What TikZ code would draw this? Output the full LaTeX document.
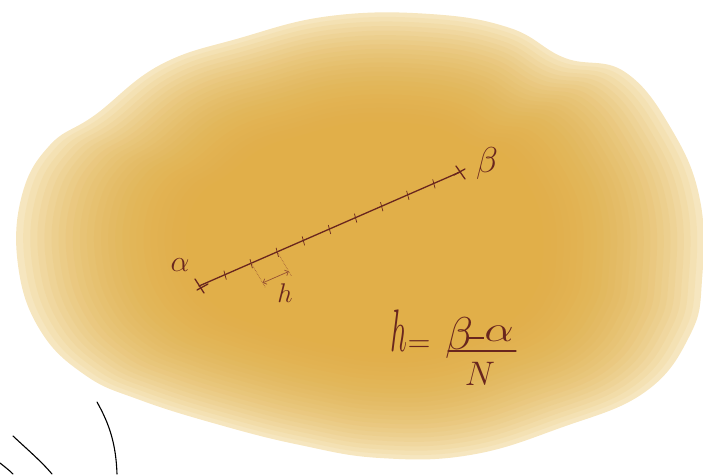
\RequirePackage{fix-cm}
\documentclass[tikz,border=0pt]{standalone}
\usetikzlibrary{arrows.meta,calc}
\definecolor{ink}{RGB}{105,38,30}
\definecolor{inklight}{RGB}{150,80,50}
\definecolor{wash}{RGB}{224,172,62}
\definecolor{washlight}{RGB}{246,228,182}
\tikzset{
  mainline/.style={ink, line width=1.3pt, line cap=round},
  tickmark/.style={ink, line width=0.7pt},
  guide/.style={inklight, line width=0.6pt, densely dotted},
  harrow/.style={inklight, line width=0.7pt, {Straight Barb[length=3pt]}-{Straight Barb[length=3pt]}},
  lbl/.style={ink, inner sep=0pt},
  stroke/.style={black, line width=1.1pt, line cap=round}
}
\newcommand{\blobpath}{plot[smooth cycle, tension=0.7] coordinates {
 (95,115) (160,65) (240,38) (330,16) (430,14) (510,28) (565,58) (625,72)
 (672,130) (700,200) (702,280) (690,335) (645,392) (560,428) (470,455)
 (380,458) (300,445) (220,425) (140,400) (85,375) (40,330) (18,265) (22,195) (50,145)}}
\begin{document}
\begin{tikzpicture}[x=1pt,y=-1pt]
\useasboundingbox (0,0) rectangle (703,474);
% watercolor wash
\fill[washlight, opacity=0.7] \blobpath;
\foreach \s in {1.0,0.98,...,0.5}{
  \begin{scope}[shift={(370,240)}, scale=\s, shift={(-370,-240)}]
    \fill[wash, opacity=0.085] \blobpath;
  \end{scope}
}
% main segment
\coordinate (A) at (199,286);
\coordinate (B) at (460,172);
\draw[mainline] (A) -- (B);
% end crosses
\draw[mainline] ($(A)+(-4,-7)$) -- ($(A)+(5,7)$);
\draw[mainline] ($(A)+(-2,4)$) -- ($(A)+(9,-2)$);
\draw[mainline] ($(B)+(-4,-6)$) -- ($(B)+(5,7)$);
\draw[mainline] ($(B)+(-6,3)$) -- ($(B)+(5,-3)$);
% ticks
\foreach \k in {1,...,9}{
  \coordinate (T\k) at ($(A)!\k/10!(B)$);
  \draw[tickmark] ($(T\k)+(-1.2,-4)$) -- ($(T\k)+(1.2,5)$);
}
% guides
\coordinate (G2) at ($(T2)+(14,24)$);
\coordinate (G3) at ($(T3)+(14,24)$);
\draw[guide] (T2) -- (G2);
\draw[guide] (T3) -- (G3);
\coordinate (H1) at ($(T2)!0.82!(G2)$);
\coordinate (H2) at ($(T3)!0.82!(G3)$);
\draw[harrow] (H1) -- (H2);
% labels
\node[lbl, font=\fontsize{30}{32}\selectfont] (alab) at (180,265) {$\alpha$};
\node[lbl, font=\fontsize{36}{38}\selectfont] (blab) at (487,163) {$\beta$};
\node[lbl, font=\fontsize{27}{29}\selectfont] (hlab) at (285,293) {$h$};
% formula
\node[lbl, font=\fontsize{60}{62}\selectfont] (hh) at (399,331) {\scalebox{0.5}[1]{$h$}};
\node[lbl] (eq) at (419,346) {\resizebox{23pt}{!}{$=$}};
\node[lbl, font=\fontsize{46}{48}\selectfont] (fb) at (459,338) {$\beta$};
\node[lbl, font=\fontsize{36}{38}\selectfont] (fa) at (499,334) {\scalebox{1.3}[1]{$\alpha$}};
\coordinate (m1) at (469,338);
\coordinate (m2) at (484,338);
\draw[ink, line width=1.2pt] (m1) -- (m2);
\coordinate (bar1) at (448,351);
\coordinate (bar2) at (516,351);
\draw[ink, line width=1.3pt, line cap=round] (bar1) -- (bar2);
\node[lbl, font=\fontsize{34}{36}\selectfont] (fn) at (480,374) {$N$};
% black strokes bottom-left
\draw[stroke] (97,402) .. controls (110,425) and (116,445) .. (117,474);
\draw[stroke] (13,436) .. controls (28,450) and (42,462) .. (52,474);
\draw[stroke] (0,463) .. controls (5,467) and (9,470) .. (13,474);
\end{tikzpicture}
\end{document}
